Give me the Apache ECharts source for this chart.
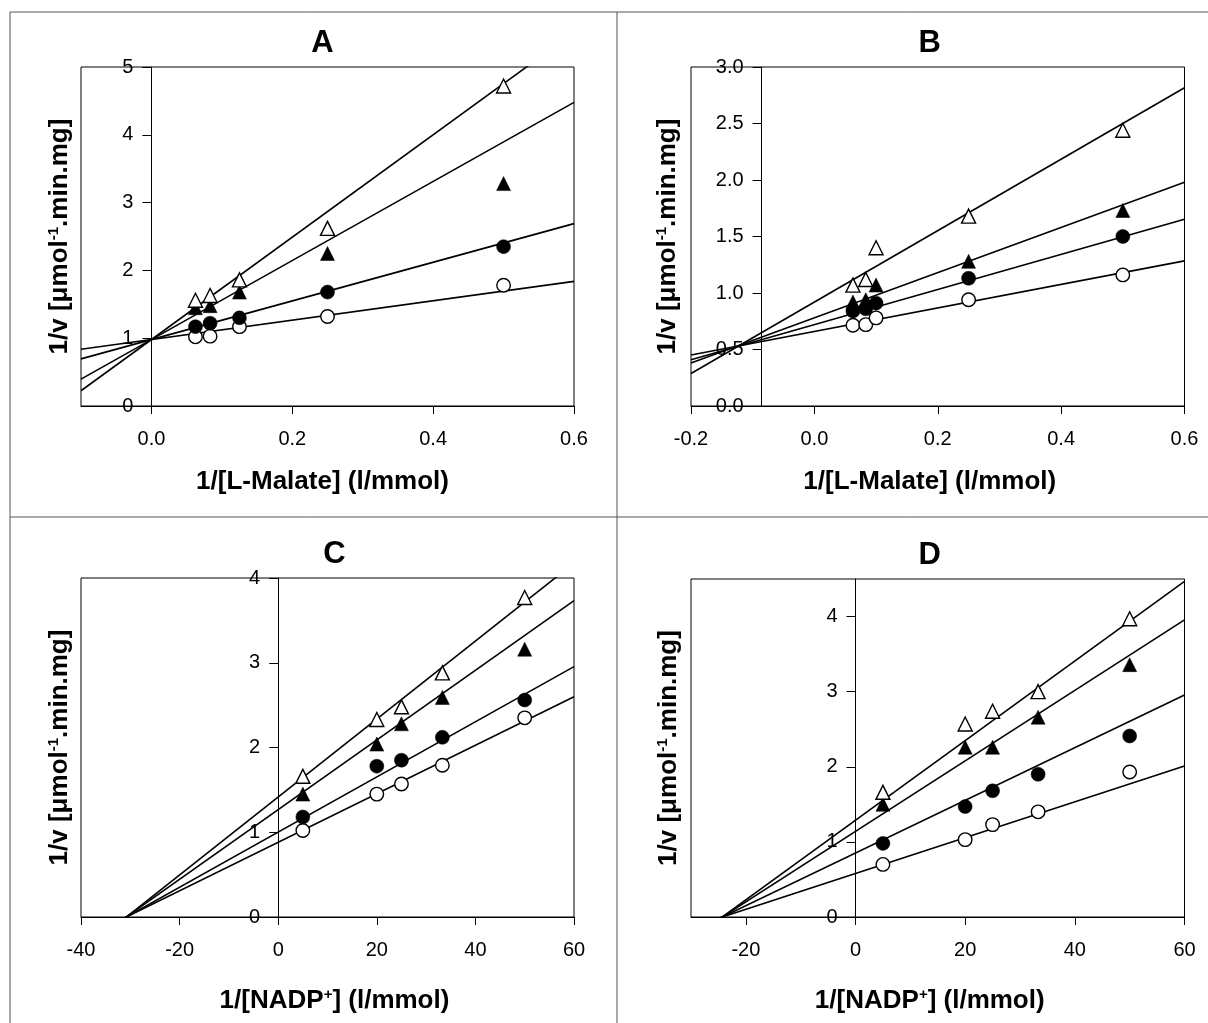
<!DOCTYPE html>
<html>
<head>
<meta charset="utf-8">
<script src="https://cdn.jsdelivr.net/npm/echarts@6/dist/echarts.min.js"></script>
<style>
  html, body { margin: 0; background: #fff; }
  #chart { width: 1208px; height: 1023px; }
</style>
</head>
<body>
<div id="chart"></div>
<script>
// x values (reciprocal substrate concentrations)
const xMalateA = [0.0625, 0.0833, 0.125, 0.25, 0.5];
const xMalateB = [0.0625, 0.0833, 0.1, 0.25, 0.5];
const xNadp = [5, 20, 25, 33.3, 50];

// 1/v values, order: open circle, filled circle, filled triangle, open triangle
const aOpenCircle = [1.02, 1.03, 1.17, 1.32, 1.78];
const aFilledCircle = [1.17, 1.22, 1.3, 1.68, 2.35];
const aFilledTri = [1.45, 1.48, 1.68, 2.25, 3.28];
const aOpenTri = [1.56, 1.63, 1.86, 2.62, 4.72];

const bOpenCircle = [0.715, 0.72, 0.78, 0.94, 1.16];
const bFilledCircle = [0.84, 0.86, 0.91, 1.13, 1.5];
const bFilledTri = [0.92, 0.94, 1.07, 1.28, 1.73];
const bOpenTri = [1.07, 1.12, 1.4, 1.68, 2.44];

const cOpenCircle = [1.02, 1.45, 1.57, 1.79, 2.35];
const cFilledCircle = [1.18, 1.78, 1.85, 2.12, 2.56];
const cFilledTri = [1.45, 2.04, 2.28, 2.59, 3.16];
const cOpenTri = [1.66, 2.33, 2.48, 2.88, 3.77];

const dOpenCircle = [0.7, 1.03, 1.23, 1.4, 1.93];
const dFilledCircle = [0.98, 1.47, 1.68, 1.9, 2.41];
const dFilledTri = [1.5, 2.26, 2.26, 2.66, 3.36];
const dOpenTri = [1.66, 2.57, 2.74, 3.0, 3.97];

// fitted lines: intercept and slope, same order as above
const aFitIntercept = [0.98, 0.98, 0.98, 0.98];
const aFitSlope = [1.43, 2.85, 5.83, 7.55];
const bFitIntercept = [0.66, 0.72, 0.78, 0.92];
const bFitSlope = [1.04, 1.555, 2.0, 3.16];
const cFitIntercept = [0.882, 1.002, 1.267, 1.416];
const cFitSlope = [0.02863, 0.03254, 0.0411, 0.046];
const dFitIntercept = [0.579, 0.852, 1.14, 1.288];
const dFitSlope = [0.02384, 0.03507, 0.04693, 0.05299];

// tick values
const aXTicks = [0, 0.2, 0.4, 0.6];
const dXTicks = [-20, 0, 20, 40, 60];
const dYTicks = [0, 1, 2, 3, 4];

const FONT = 'Liberation Sans, Arial, sans-serif';
const yName = '1/v [\u03bcmol{sup|-1}.min.mg]';
const xMalateName = '1/[L-Malate] (l/mmol)';
const xNadpName = '1/[NADP{sup|+}] (l/mmol)';

const markers = [
  { symbol: 'circle', symbolSize: 13.5, itemStyle: { color: '#fff', borderColor: '#000', borderWidth: 1.4, opacity: 1 } },
  { symbol: 'circle', symbolSize: 14, itemStyle: { color: '#000', borderColor: '#000', borderWidth: 0.5, opacity: 1 } },
  { symbol: 'triangle', symbolSize: 14, itemStyle: { color: '#000', borderColor: '#000', borderWidth: 0.5, opacity: 1 } },
  { symbol: 'triangle', symbolSize: 14, itemStyle: { color: '#fff', borderColor: '#000', borderWidth: 1.4, opacity: 1 } }
];

// textShift: horizontal offset of title / x-axis name from the plot centre
const panels = [
  { title: 'A', left: 81, top: 67, width: 493, height: 339, xMin: -0.1, xMax: 0.6, xTicks: aXTicks, xDec: 1,
    yMin: 0, yMax: 5, yInterval: 1, yDec: 0, yCross: 0, yNameEdge: 74, xNameGap: 62, xName: xMalateName, textShift: -5,
    x: xMalateA, ys: [aOpenCircle, aFilledCircle, aFilledTri, aOpenTri], fa: aFitIntercept, fb: aFitSlope },
  { title: 'B', left: 691, top: 67, width: 493.5, height: 339, xMin: -0.2, xMax: 0.6, xInterval: 0.2, xDec: 1,
    yMin: 0, yMax: 3, yInterval: 0.5, yDec: 1, yCross: -0.0855, yNameEdge: 682, xNameGap: 62, xName: xMalateName, textShift: -8,
    x: xMalateB, ys: [bOpenCircle, bFilledCircle, bFilledTri, bOpenTri], fa: bFitIntercept, fb: bFitSlope },
  { title: 'C', left: 81, top: 578, width: 493, height: 339, xMin: -40, xMax: 60, xInterval: 20, xDec: 0,
    yMin: 0, yMax: 4, yInterval: 1, yDec: 0, yCross: 0, yNameEdge: 74, xNameGap: 70, xName: xNadpName, textShift: 7,
    x: xNadp, ys: [cOpenCircle, cFilledCircle, cFilledTri, cOpenTri], fa: cFitIntercept, fb: cFitSlope },
  { title: 'D', left: 691, top: 579, width: 493.5, height: 338, xMin: -30, xMax: 60, xTicks: dXTicks, xDec: 0,
    yMin: 0, yMax: 4.5, yTicks: dYTicks, yDec: 0, yCross: 0, yNameEdge: 683, xNameGap: 70, xName: xNadpName, textShift: -8,
    x: xNadp, ys: [dOpenCircle, dFilledCircle, dFilledTri, dOpenTri], fa: dFitIntercept, fb: dFitSlope }
];

const nameStyle = (extra) => Object.assign({
  fontFamily: FONT, fontSize: 26, fontWeight: 'bold', color: '#000', lineHeight: 28,
  rich: { sup: { fontFamily: FONT, fontSize: 15, fontWeight: 'bold', color: '#000', verticalAlign: 'top', lineHeight: 28 } }
}, extra);

const grid = [], xAxis = [], yAxis = [], series = [], title = [];

panels.forEach((p, i) => {
  const crossPx = p.left + (p.yCross - p.xMin) / (p.xMax - p.xMin) * p.width;
  const s = p.textShift;
  title.push({
    text: p.title, left: p.left + p.width / 2 + s, top: p.top - 39, textAlign: 'center', padding: 0,
    textStyle: { fontFamily: FONT, fontSize: 31, fontWeight: 'bold', color: '#000' }
  });
  grid.push({ left: p.left, top: p.top, width: p.width, height: p.height, show: true,
    outerBoundsMode: 'none', containLabel: false,
    borderColor: '#000', borderWidth: 1, backgroundColor: 'transparent' });

  const xLabel = { fontFamily: FONT, fontSize: 20, color: '#000', margin: 23,
    formatter: v => Number(v).toFixed(p.xDec) };
  const xTick = { length: 8, lineStyle: { color: '#000', width: 1 } };
  if (p.xTicks) { xLabel.customValues = p.xTicks; xTick.customValues = p.xTicks; }
  xAxis.push({
    type: 'value', gridIndex: i, min: p.xMin, max: p.xMax, interval: p.xInterval,
    name: p.xName, nameLocation: 'middle', nameGap: p.xNameGap,
    nameTextStyle: nameStyle({ padding: s < 0 ? [0, -2 * s, 0, 0] : [0, 0, 0, 2 * s] }),
    axisLine: { onZero: false, lineStyle: { color: '#000', width: 1 } },
    axisTick: xTick, axisLabel: xLabel, splitLine: { show: false }
  });

  const yLabel = { fontFamily: FONT, fontSize: 20, color: '#000', margin: 18,
    formatter: v => Number(v).toFixed(p.yDec) };
  const yTick = { length: 9, lineStyle: { color: '#000', width: 1 } };
  if (p.yTicks) { yLabel.customValues = p.yTicks; yTick.customValues = p.yTicks; }
  // the y axis crosses the x axis at yCross: shift it into the plot
  yAxis.push({
    type: 'value', gridIndex: i, min: p.yMin, max: p.yMax, interval: p.yInterval,
    offset: -(crossPx - p.left),
    name: yName, nameLocation: 'middle', nameGap: crossPx - p.yNameEdge,
    nameTextStyle: nameStyle({}),
    axisLine: { onZero: false, lineStyle: { color: '#000', width: 1 } },
    axisTick: yTick, axisLabel: yLabel, splitLine: { show: false }
  });

  p.ys.forEach((ys, k) => {
    const a = p.fa[k], b = p.fb[k];
    series.push({
      type: 'line', xAxisIndex: i, yAxisIndex: i, showSymbol: false, silent: true, z: 2, clip: true,
      lineStyle: { color: '#000', width: 1.6 },
      data: [[p.xMin, a + b * p.xMin], [p.xMax, a + b * p.xMax]]
    });
    series.push(Object.assign({
      type: 'scatter', xAxisIndex: i, yAxisIndex: i, z: 3, silent: true,
      data: p.x.map((xv, j) => [xv, ys[j]])
    }, markers[k]));
  });
});

const frame = { stroke: '#555', lineWidth: 1 };
const chart = echarts.init(document.getElementById('chart'));
chart.setOption({
  animation: false,
  backgroundColor: '#fff',
  title, grid, xAxis, yAxis, series,
  graphic: [
    { type: 'line', shape: { x1: 10, y1: 12, x2: 1208, y2: 12 }, style: frame },
    { type: 'line', shape: { x1: 10, y1: 12, x2: 10, y2: 1023 }, style: frame },
    { type: 'line', shape: { x1: 617, y1: 12, x2: 617, y2: 1023 }, style: frame },
    { type: 'line', shape: { x1: 10, y1: 517, x2: 1208, y2: 517 }, style: frame }
  ]
});
</script>
</body>
</html>
